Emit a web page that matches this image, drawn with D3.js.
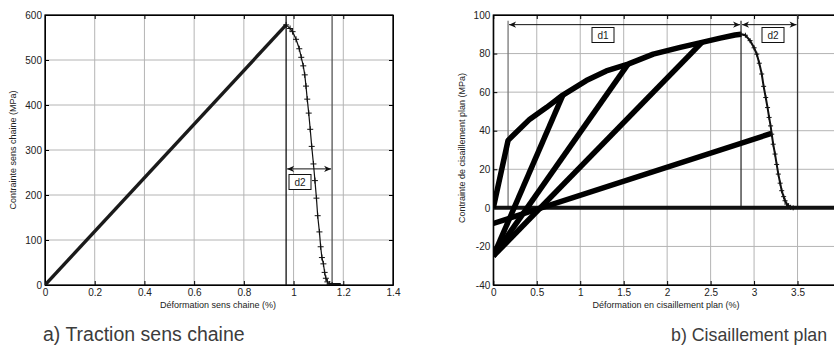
<!DOCTYPE html>
<html lang="fr">
<head>
  <meta charset="UTF-8">
  <title>Traction / Cisaillement</title>
  <style>
    body { margin: 0; background: #fff; }
    svg { display: block; font-family: "Liberation Sans", Arial, sans-serif; }
    .grid line { stroke: #b4b4b4; stroke-width: 1; }
    .tick text { font-size: 10px; fill: #222; }
  </style>
</head>
<body>
  <svg id="chart" width="834" height="349"></svg>
  <script src="https://cdn.jsdelivr.net/npm/d3@7"></script>
  <script>
    // --- a) traction sens chaine ---
    var tractionXTicks = [0, 0.2, 0.4, 0.6, 0.8, 1, 1.2, 1.4];
    var tractionYTicks = [0, 100, 200, 300, 400, 500, 600];
    var tractionLinear = [[0, 0], [0.97, 578]];
    var tractionDrop = [[0.97, 578], [0.986, 570], [0.996, 563], [1.010, 546], [1.023, 525], [1.031, 506],
      [1.039, 487], [1.045, 467], [1.050, 442], [1.055, 413], [1.061, 382], [1.067, 346], [1.073, 308],
      [1.080, 269], [1.086, 232], [1.092, 193], [1.097, 154], [1.104, 118], [1.109, 85], [1.114, 61],
      [1.120, 47], [1.125, 28], [1.130, 15], [1.136, 7], [1.145, 2], [1.155, 0]];
    var tractionTail = [[1.14, 0], [1.19, 0]];
    var tractionLimits = [0.97, 1.155];
    var tractionArrowY = 258;

    // --- b) cisaillement plan (axis runs to 4, cut by the page edge) ---
    var shearXTicks = [0, 0.5, 1, 1.5, 2, 2.5, 3, 3.5];
    var shearYTicks = [-40, -20, 0, 20, 40, 60, 80, 100];
    var shearEnvelope = [[0, 0], [0.17, 35], [0.42, 46], [0.61, 52], [0.8, 58.5], [1.07, 66], [1.3, 71],
      [1.55, 74.5], [1.84, 79.7], [2.15, 83.2], [2.4, 85.8], [2.61, 88], [2.78, 89.6], [2.85, 90]];
    var shearDrop = [[2.85, 90], [2.9, 89.5], [2.954, 86.7], [3.0, 83], [3.031, 79.7], [3.06, 75],
      [3.088, 69.4], [3.11, 63], [3.134, 57.2], [3.155, 52], [3.173, 46.9], [3.19, 42.5], [3.203, 38.2],
      [3.22, 33], [3.241, 27.9], [3.26, 22.5], [3.279, 17.5], [3.30, 12.8], [3.318, 8.9], [3.34, 5.8],
      [3.356, 3.7], [3.375, 2], [3.395, 1.1], [3.42, 0.3], [3.45, 0]];
    var shearCycles = [
      [[0.8, 58.5], [0, -25]],
      [[1.55, 74.5], [0, -25]],
      [[2.4, 85.8], [0, -25]],
      [[3.2, 38.6], [0, -8.1]]
    ];
    var shearZero = [[0, 0], [4, 0]];
    var shearLimits = [0.17, 2.85, 3.5];
    var shearArrowY = 95;

    var svg = d3.select('#chart');
    var defs = svg.append('defs');
    defs.append('marker').attr('id', 'arr')
      .attr('viewBox', '-1 -4 9 8').attr('refX', 7).attr('refY', 0)
      .attr('markerWidth', 9).attr('markerHeight', 8).attr('markerUnits', 'userSpaceOnUse')
      .attr('orient', 'auto-start-reverse')
      .append('path').attr('d', 'M0,-3.2L7,0L0,3.2L2,0Z').attr('fill', '#111');

    function panel(opt) {
      var g = svg.append('g');
      var x = d3.scaleLinear().domain(opt.xDomain).range(opt.xRange);
      var y = d3.scaleLinear().domain(opt.yDomain).range([285, 15]);
      var clipId = 'clip' + opt.id;
      defs.append('clipPath').attr('id', clipId).append('rect')
        .attr('x', opt.xRange[0]).attr('y', 15)
        .attr('width', opt.xRange[1] - opt.xRange[0]).attr('height', 270);

      // grid
      g.append('g').attr('class', 'grid').selectAll('line').data(opt.xTicks).join('line')
        .attr('x1', d => x(d)).attr('x2', d => x(d)).attr('y1', 15).attr('y2', 285);
      g.append('g').attr('class', 'grid').selectAll('line').data(opt.yTicks).join('line')
        .attr('x1', opt.xRange[0]).attr('x2', opt.xRange[1]).attr('y1', d => y(d)).attr('y2', d => y(d));

      // axes with inward ticks (matlab style), plain hyphen for negatives
      var fmt = d => String(d);
      g.append('g').attr('transform', 'translate(0,285)')
        .call(d3.axisBottom(x).tickValues(opt.xTicks).tickFormat(fmt).tickSizeInner(-4).tickSizeOuter(0).tickPadding(4));
      g.append('g').attr('transform', 'translate(' + opt.xRange[0] + ',0)')
        .call(d3.axisLeft(y).tickValues(opt.yTicks).tickFormat(fmt).tickSizeInner(-4).tickSizeOuter(0).tickPadding(3));
      g.append('g').attr('transform', 'translate(0,15)')
        .call(d3.axisTop(x).tickValues(opt.xTicks).tickFormat('').tickSizeInner(-4).tickSizeOuter(0));
      g.append('g').attr('transform', 'translate(' + opt.xRange[1] + ',0)')
        .call(d3.axisRight(y).tickValues(opt.yTicks).tickFormat('').tickSizeInner(-4).tickSizeOuter(0));
      g.selectAll('.domain').attr('stroke', '#000');
      g.selectAll('.tick line').attr('stroke', '#000');
      g.append('rect').attr('x', opt.xRange[0]).attr('y', 15)
        .attr('width', opt.xRange[1] - opt.xRange[0]).attr('height', 270)
        .attr('fill', 'none').attr('stroke', '#000').attr('stroke-width', 1.2);

      // axis titles
      g.append('text').attr('x', opt.xLabelX).attr('y', 308).attr('text-anchor', 'middle')
        .attr('font-size', 9).attr('fill', '#222').text(opt.xLabel);
      g.append('text').attr('transform', 'translate(' + opt.yLabelX + ',' + opt.yLabelY + ') rotate(-90)')
        .attr('text-anchor', 'middle').attr('font-size', 9).attr('fill', '#222').text(opt.yLabel);

      var plot = g.append('g').attr('clip-path', 'url(#' + clipId + ')');
      return { g: g, plot: plot, x: x, y: y };
    }

    function plus(sel, pts, x, y, s, w) {
      sel.append('path')
        .attr('d', pts.map(p => 'M' + (x(p[0]) - s) + ',' + y(p[1]) + 'h' + 2 * s +
          'M' + x(p[0]) + ',' + (y(p[1]) - s) + 'v' + 2 * s).join(''))
        .attr('stroke', '#111').attr('stroke-width', w).attr('fill', 'none');
    }

    function labelBox(g, cx, cy, txt) {
      g.append('rect').attr('x', cx - 11).attr('y', cy - 7.5).attr('width', 22).attr('height', 15)
        .attr('fill', '#fff').attr('stroke', '#111').attr('stroke-width', 1);
      g.append('text').attr('x', cx).attr('y', cy + 3.5).attr('text-anchor', 'middle')
        .attr('font-size', 10).attr('fill', '#222').text(txt);
    }

    // ---------- panel a ----------
    var a = panel({
      id: 'a', xDomain: [0, 1.4], xRange: [45, 393], yDomain: [0, 600],
      xTicks: tractionXTicks, yTicks: tractionYTicks,
      xLabel: 'Déformation sens chaine (%)', xLabelX: 218,
      yLabel: 'Contrainte sens chaine (MPa)', yLabelX: 16, yLabelY: 150
    });
    var lineA = d3.line().x(d => a.x(d[0])).y(d => a.y(d[1]));
    a.plot.selectAll('line.lim').data(tractionLimits).join('line')
      .attr('x1', d => a.x(d)).attr('x2', d => a.x(d)).attr('y1', 15).attr('y2', 285)
      .attr('stroke', (d, i) => i ? '#555' : '#111').attr('stroke-width', 1.3);
    a.plot.append('path').attr('d', lineA(tractionLinear)).attr('stroke', '#1a1a1a')
      .attr('stroke-width', 3.4).attr('fill', 'none');
    a.plot.append('path').attr('d', lineA(tractionDrop)).attr('stroke', '#111')
      .attr('stroke-width', 1.2).attr('fill', 'none');
    plus(a.plot, tractionDrop, a.x, a.y, 3, 1);
    a.plot.append('path').attr('d', lineA(tractionTail)).attr('stroke', '#111')
      .attr('stroke-width', 4).attr('fill', 'none');
    a.g.append('line')
      .attr('x1', a.x(tractionLimits[0]) + 1).attr('x2', a.x(tractionLimits[1]) - 1)
      .attr('y1', a.y(tractionArrowY)).attr('y2', a.y(tractionArrowY))
      .attr('stroke', '#111').attr('stroke-width', 1)
      .attr('marker-start', 'url(#arr)').attr('marker-end', 'url(#arr)');
    labelBox(a.g, 300, 182, 'd2');

    // ---------- panel b ----------
    var b = panel({
      id: 'b', xDomain: [0, 4], xRange: [493.3, 841], yDomain: [-40, 100],
      xTicks: shearXTicks, yTicks: shearYTicks,
      xLabel: 'Déformation en cisaillement plan (%)', xLabelX: 666,
      yLabel: 'Contrainte de cisaillement plan (MPa)', yLabelX: 465, yLabelY: 148
    });
    var lineB = d3.line().x(d => b.x(d[0])).y(d => b.y(d[1]));
    b.plot.selectAll('line.lim').data(shearLimits).join('line')
      .attr('x1', d => b.x(d)).attr('x2', d => b.x(d))
      .attr('y1', (d, i) => i === 2 ? 15 : b.y(97)).attr('y2', b.y(0))
      .attr('stroke', (d, i) => i ? '#333' : '#777').attr('stroke-width', 1.3);
    b.plot.append('path').attr('d', lineB(shearZero)).attr('stroke', '#111')
      .attr('stroke-width', 4).attr('fill', 'none');
    b.plot.selectAll('path.cyc').data(shearCycles).join('path')
      .attr('d', d => lineB(d)).attr('stroke', '#000').attr('stroke-width', 5.5).attr('fill', 'none');
    b.plot.append('path').attr('d', lineB(shearEnvelope)).attr('stroke', '#000')
      .attr('stroke-width', 5.5).attr('stroke-linejoin', 'round').attr('fill', 'none');
    b.plot.append('path').attr('d', lineB(shearDrop)).attr('stroke', '#111')
      .attr('stroke-width', 2).attr('fill', 'none');
    plus(b.plot, shearDrop, b.x, b.y, 2.5, 1);
    [[shearLimits[0], shearLimits[1]], [shearLimits[1], shearLimits[2]]].forEach(function (s) {
      b.g.append('line')
        .attr('x1', b.x(s[0]) + 1).attr('x2', b.x(s[1]) - 1)
        .attr('y1', b.y(shearArrowY)).attr('y2', b.y(shearArrowY))
        .attr('stroke', '#111').attr('stroke-width', 1)
        .attr('marker-start', 'url(#arr)').attr('marker-end', 'url(#arr)');
    });
    labelBox(b.g, 603, 35, 'd1');
    labelBox(b.g, 773, 35, 'd2');

    // captions
    svg.append('text').attr('x', 43).attr('y', 341).attr('font-size', 19.5).attr('fill', '#3c3c3c')
      .text('a) Traction sens chaine');
    svg.append('text').attr('x', 671).attr('y', 341).attr('font-size', 17.8).attr('fill', '#3c3c3c')
      .text('b) Cisaillement plan');
  </script>
</body>
</html>
